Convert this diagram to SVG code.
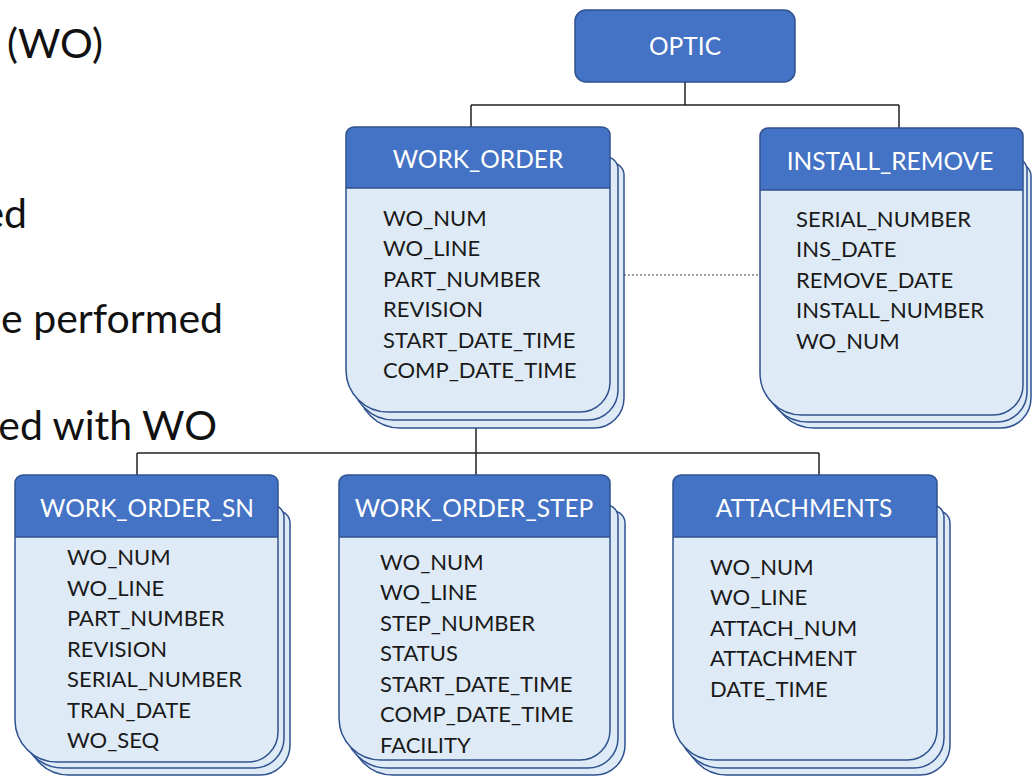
<svg xmlns="http://www.w3.org/2000/svg" width="1032" height="777" viewBox="0 0 1032 777">
<style>
.hdr{fill:#4472C4}
.body{fill:#DEEBF7}
.out{fill:none;stroke:#2F528F;stroke-width:1.5}
.back{fill:#DEEBF7;stroke:#2F528F;stroke-width:1.5}
.title{font-family:Lato,"Liberation Sans",sans-serif;font-size:24.5px;fill:#FFFFFF;text-anchor:middle}
.fld{font-family:Lato,"Liberation Sans",sans-serif;font-size:22px;fill:#1A1A1A}
.side{font-family:Lato,"Liberation Sans",sans-serif;font-size:41px;fill:#111111;text-anchor:end}
.con{fill:none;stroke:#222222;stroke-width:1.5}
.dot{fill:none;stroke:#444444;stroke-width:1.2;stroke-dasharray:2 2}
</style>
<rect width="1032" height="777" fill="#FFFFFF"/>
<g id="side-text">
<text class="side" x="103" y="58">(WO)</text>
<text class="side" x="27" y="228">ed</text>
<text class="side" x="223" y="333">e performed</text>
<text class="side" x="217" y="440">ed with WO</text>
</g>
<g id="connectors">
<path class="con" d="M685,82 V105 M471,105 H899 M471,105 V127 M899,105 V128"/>
<path class="con" d="M476,428 V453 M137,453 H819 M137,453 V475 M476,453 V475 M819,453 V475"/>
<path class="dot" d="M624,275 H758"/>
</g>
<g id="optic">
<rect x="575" y="10" width="220" height="72" rx="11" fill="#4472C4" stroke="#2F528F" stroke-width="1.5"/>
<text class="title" x="685" y="55">OPTIC</text>
</g>
<g id="work_order">
<path class="back" d="M358,163 H612 A12 12 0 0 1 624,175 V398 A30 30 0 0 1 594,428 H400 A42 42 0 0 1 358,386 Z"/>
<path class="back" d="M352,157 H606 A12 12 0 0 1 618,169 V390 A30 30 0 0 1 588,420 H394 A42 42 0 0 1 352,378 Z"/>
<path class="body" d="M354,127 H602 A8 8 0 0 1 610,135 V382 A30 30 0 0 1 580,412 H388 A42 42 0 0 1 346,370 V135 A8 8 0 0 1 354,127 Z"/>
<path class="hdr" d="M346,188 V135 A8 8 0 0 1 354,127 H602 A8 8 0 0 1 610,135 V188 Z"/>
<path class="out" d="M354,127 H602 A8 8 0 0 1 610,135 V382 A30 30 0 0 1 580,412 H388 A42 42 0 0 1 346,370 V135 A8 8 0 0 1 354,127 Z M346,188 H610"/>
<text class="title" x="478" y="168">WORK_ORDER</text>
<text class="fld" x="383" y="226">WO_NUM</text>
<text class="fld" x="383" y="256.4">WO_LINE</text>
<text class="fld" x="383" y="286.8">PART_NUMBER</text>
<text class="fld" x="383" y="317.2">REVISION</text>
<text class="fld" x="383" y="347.6">START_DATE_TIME</text>
<text class="fld" x="383" y="378">COMP_DATE_TIME</text>
</g>
<g id="install_remove">
<path class="back" d="M772,164 H1019 A12 12 0 0 1 1031,176 V398 A30 30 0 0 1 1001,428 H814 A42 42 0 0 1 772,386 Z"/>
<path class="back" d="M766,158 H1015 A12 12 0 0 1 1027,170 V392 A30 30 0 0 1 997,422 H808 A42 42 0 0 1 766,380 Z"/>
<path class="body" d="M768,128 H1015 A8 8 0 0 1 1023,136 V385 A30 30 0 0 1 993,415 H802 A42 42 0 0 1 760,373 V136 A8 8 0 0 1 768,128 Z"/>
<path class="hdr" d="M760,190 V136 A8 8 0 0 1 768,128 H1015 A8 8 0 0 1 1023,136 V190 Z"/>
<path class="out" d="M768,128 H1015 A8 8 0 0 1 1023,136 V385 A30 30 0 0 1 993,415 H802 A42 42 0 0 1 760,373 V136 A8 8 0 0 1 768,128 Z M760,190 H1023"/>
<text class="title" x="890" y="170">INSTALL_REMOVE</text>
<text class="fld" x="796" y="227">SERIAL_NUMBER</text>
<text class="fld" x="796" y="257.4">INS_DATE</text>
<text class="fld" x="796" y="287.8">REMOVE_DATE</text>
<text class="fld" x="796" y="318.2">INSTALL_NUMBER</text>
<text class="fld" x="796" y="348.6">WO_NUM</text>
</g>
<g id="work_order_sn">
<path class="back" d="M27,511 H278 A12 12 0 0 1 290,523 V745 A30 30 0 0 1 260,775 H69 A42 42 0 0 1 27,733 Z"/>
<path class="back" d="M21,505 H272 A12 12 0 0 1 284,517 V738 A30 30 0 0 1 254,768 H63 A42 42 0 0 1 21,726 Z"/>
<path class="body" d="M23,475 H270 A8 8 0 0 1 278,483 V732 A30 30 0 0 1 248,762 H57 A42 42 0 0 1 15,720 V483 A8 8 0 0 1 23,475 Z"/>
<path class="hdr" d="M15,537 V483 A8 8 0 0 1 23,475 H270 A8 8 0 0 1 278,483 V537 Z"/>
<path class="out" d="M23,475 H270 A8 8 0 0 1 278,483 V732 A30 30 0 0 1 248,762 H57 A42 42 0 0 1 15,720 V483 A8 8 0 0 1 23,475 Z M15,537 H278"/>
<text class="title" x="147" y="517">WORK_ORDER_SN</text>
<text class="fld" x="67" y="565">WO_NUM</text>
<text class="fld" x="67" y="595.5">WO_LINE</text>
<text class="fld" x="67" y="626">PART_NUMBER</text>
<text class="fld" x="67" y="656.5">REVISION</text>
<text class="fld" x="67" y="687">SERIAL_NUMBER</text>
<text class="fld" x="67" y="717.5">TRAN_DATE</text>
<text class="fld" x="67" y="748">WO_SEQ</text>
</g>
<g id="work_order_step">
<path class="back" d="M351,511 H613 A12 12 0 0 1 625,523 V745 A30 30 0 0 1 595,775 H393 A42 42 0 0 1 351,733 Z"/>
<path class="back" d="M345,505 H606 A12 12 0 0 1 618,517 V738 A30 30 0 0 1 588,768 H387 A42 42 0 0 1 345,726 Z"/>
<path class="body" d="M347,475 H602 A8 8 0 0 1 610,483 V730 A30 30 0 0 1 580,760 H381 A42 42 0 0 1 339,718 V483 A8 8 0 0 1 347,475 Z"/>
<path class="hdr" d="M339,537 V483 A8 8 0 0 1 347,475 H602 A8 8 0 0 1 610,483 V537 Z"/>
<path class="out" d="M347,475 H602 A8 8 0 0 1 610,483 V730 A30 30 0 0 1 580,760 H381 A42 42 0 0 1 339,718 V483 A8 8 0 0 1 347,475 Z M339,537 H610"/>
<text class="title" x="474" y="517">WORK_ORDER_STEP</text>
<text class="fld" x="380" y="569.5">WO_NUM</text>
<text class="fld" x="380" y="600">WO_LINE</text>
<text class="fld" x="380" y="630.5">STEP_NUMBER</text>
<text class="fld" x="380" y="661">STATUS</text>
<text class="fld" x="380" y="691.5">START_DATE_TIME</text>
<text class="fld" x="380" y="722">COMP_DATE_TIME</text>
<text class="fld" x="380" y="752.5">FACILITY</text>
</g>
<g id="attachments">
<path class="back" d="M685,511 H938 A12 12 0 0 1 950,523 V745 A30 30 0 0 1 920,775 H727 A42 42 0 0 1 685,733 Z"/>
<path class="back" d="M679,505 H932 A12 12 0 0 1 944,517 V738 A30 30 0 0 1 914,768 H721 A42 42 0 0 1 679,726 Z"/>
<path class="body" d="M681,475 H929 A8 8 0 0 1 937,483 V730 A30 30 0 0 1 907,760 H715 A42 42 0 0 1 673,718 V483 A8 8 0 0 1 681,475 Z"/>
<path class="hdr" d="M673,537 V483 A8 8 0 0 1 681,475 H929 A8 8 0 0 1 937,483 V537 Z"/>
<path class="out" d="M681,475 H929 A8 8 0 0 1 937,483 V730 A30 30 0 0 1 907,760 H715 A42 42 0 0 1 673,718 V483 A8 8 0 0 1 681,475 Z M673,537 H937"/>
<text class="title" x="804" y="517">ATTACHMENTS</text>
<text class="fld" x="710" y="574.5">WO_NUM</text>
<text class="fld" x="710" y="605">WO_LINE</text>
<text class="fld" x="710" y="635.5">ATTACH_NUM</text>
<text class="fld" x="710" y="666">ATTACHMENT</text>
<text class="fld" x="710" y="696.5">DATE_TIME</text>
</g>
</svg>
